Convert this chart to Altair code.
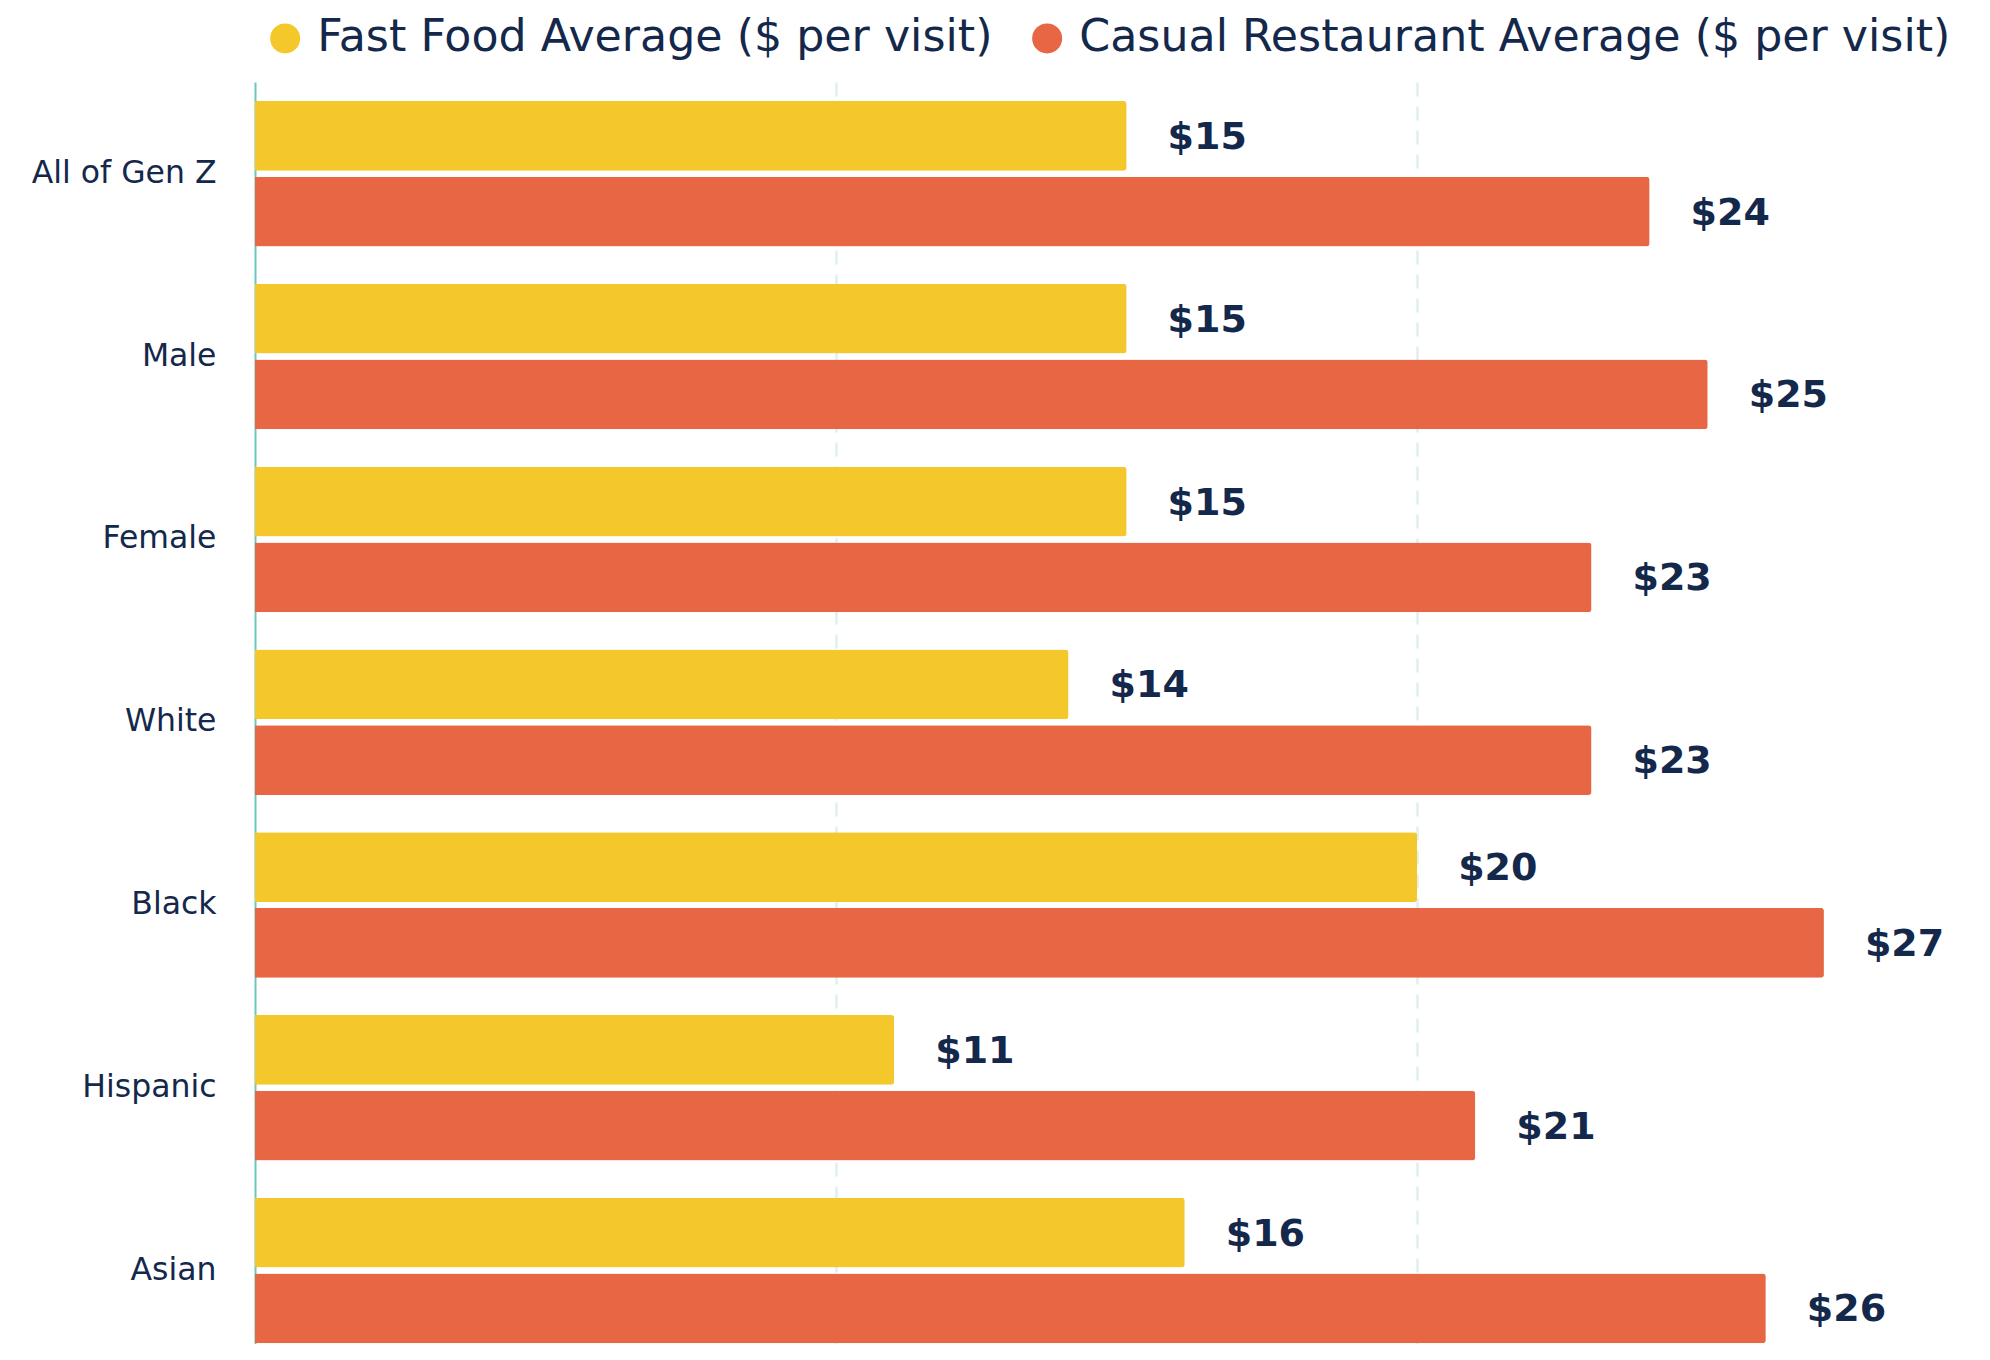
import altair as alt
import pandas as pd

groups = ["All of Gen Z", "Male", "Female", "White", "Black", "Hispanic", "Asian"]
fast_food = [15, 15, 15, 14, 20, 11, 16]
casual = [24, 25, 23, 23, 27, 21, 26]
series_names = ["Fast Food Average ($ per visit)", "Casual Restaurant Average ($ per visit)"]
series_colors = ["#F4C82A", "#E76643"]

rows = []
for g, f, c in zip(groups, fast_food, casual):
    rows.append({"group": g, "series": series_names[0], "value": f})
    rows.append({"group": g, "series": series_names[1], "value": c})
df = pd.DataFrame(rows)
df["label"] = "$" + df["value"].astype(str)

NAVY = "#14284B"
FONT = "DejaVu Sans"

y_enc = alt.Y(
    "group:N",
    sort=groups,
    title=None,
    scale=alt.Scale(paddingInner=0.204, paddingOuter=0.054, align=0.965),
    axis=alt.Axis(
        labelFont=FONT,
        labelFontSize=31.5,
        labelColor=NAVY,
        labelPadding=39,
        labelLimit=400,
        ticks=False,
        domain=True,
        domainColor="#6CC7C0",
        domainWidth=2,
        grid=False,
    ),
)
yoff = alt.YOffset(
    "series:N",
    sort=series_names,
    scale=alt.Scale(domain=series_names, paddingInner=0.079, paddingOuter=0),
)
x_enc = alt.X(
    "value:Q",
    title=None,
    scale=alt.Scale(domain=[0, 29.6], nice=False, zero=True),
    axis=alt.Axis(
        values=[10, 20],
        labels=False,
        ticks=False,
        domain=False,
        grid=True,
        gridColor="#DDF1EF",
        gridWidth=2.5,
        gridDash=[14, 10],
    ),
)

bars = alt.Chart(df).mark_bar(cornerRadiusEnd=3).encode(
    y=y_enc,
    yOffset=yoff,
    x=x_enc,
    color=alt.Color(
        "series:N",
        sort=series_names,
        scale=alt.Scale(domain=series_names, range=series_colors),
        legend=alt.Legend(
            title=None,
            orient="none",
            direction="horizontal",
            legendX=8,
            legendY=-66,
            symbolType="circle",
            symbolSize=900,
            symbolStrokeWidth=0,
            symbolOpacity=1,
            labelFont=FONT,
            labelFontSize=44.3,
            labelColor=NAVY,
            labelOffset=10,
            columnPadding=32,
            padding=0,
            labelLimit=1000,
        ),
    ),
)

labels = alt.Chart(df).mark_text(
    align="left",
    baseline="middle",
    dx=41,
    dy=2,
    font=FONT,
    fontSize=38,
    fontWeight="bold",
    color=NAVY,
).encode(
    y=alt.Y("group:N", sort=groups),
    yOffset=alt.YOffset("series:N", sort=series_names),
    x=alt.X("value:Q"),
    text="label:N",
)

chart = (
    alt.layer(bars, labels)
    .properties(
        width=1720,
        height=1262,
        padding={"left": 247, "top": 74, "right": 0, "bottom": 0},
        autosize=alt.AutoSizeParams(type="none"),
        background="white",
    )
    .configure_view(stroke=None)
)

chart.save("out.html", embed_options={"renderer": "svg", "actions": False})
